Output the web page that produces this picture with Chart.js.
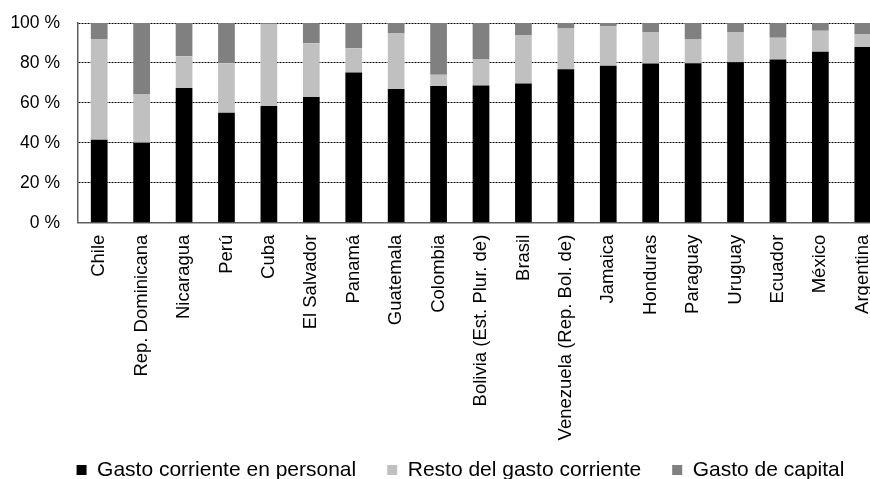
<!DOCTYPE html>
<html>
<head>
<meta charset="utf-8">
<script src="https://cdn.jsdelivr.net/npm/chart.js@4/dist/chart.umd.min.js"></script>
<style>
  html, body { margin: 0; padding: 0; background: #ffffff; overflow: hidden; }
  #wrap { position: relative; width: 870px; height: 479px; overflow: hidden; }
  #box { position: absolute; left: 0; top: 0; width: 900px; height: 479px; }
</style>
</head>
<body>
<div id="wrap"><div id="box"><canvas id="c"></canvas></div></div>
<script>
// Countries, ordered by share of personnel spending
const countries = [
  'Chile', 'Rep. Dominicana', 'Nicaragua', 'Perú', 'Cuba', 'El Salvador',
  'Panamá', 'Guatemala', 'Colombia', 'Bolivia (Est. Plur. de)', 'Brasil',
  'Venezuela (Rep. Bol. de)', 'Jamaica', 'Honduras', 'Paraguay', 'Uruguay',
  'Ecuador', 'México', 'Argentina'
];

// Shares of total spending (%)
const gastoPersonal = [41.5, 40.0, 67.5, 55.0, 58.5, 62.9, 75.2, 66.9, 68.4, 68.7, 69.7, 76.9, 78.6, 79.7, 79.9, 80.4, 81.7, 85.6, 88.0];
const restoCorriente = [50.5, 24.2, 15.8, 24.8, 41.0, 26.9, 12.2, 27.9, 5.7, 13.0, 24.3, 20.4, 19.9, 15.8, 11.9, 15.1, 10.9, 10.5, 6.3];
const gastoCapital = [8.0, 35.8, 16.7, 20.2, 0.5, 10.2, 12.6, 5.2, 25.9, 18.3, 6.0, 2.7, 1.5, 4.5, 8.2, 4.5, 7.4, 3.9, 5.7];

const yTicks = [0, 20, 40, 60, 80, 100];

const FONT = 'Liberation Sans, Arial, Helvetica, sans-serif';

// Legend sits centred under the whole figure, tight to the bottom edge;
// the category labels may run down towards it without being clipped.
const placement = {
  id: 'placement',
  afterLayout(chart) {
    const lg = chart.legend;
    const h = lg.height;
    lg.left += 18.5;
    lg.right += 18.5;
    lg.top = 428.5;
    lg.bottom = lg.top + h;
    chart.scales.x.bottom = chart.height;
  }
};

new Chart(document.getElementById('c'), {
  type: 'bar',
  data: {
    labels: countries,
    datasets: [
      { label: 'Gasto corriente en personal', data: gastoPersonal, backgroundColor: '#000000' },
      { label: 'Resto del gasto corriente', data: restoCorriente, backgroundColor: '#c0c0c0' },
      { label: 'Gasto de capital', data: gastoCapital, backgroundColor: '#808080' }
    ]
  },
  plugins: [placement],
  options: {
    responsive: true,
    maintainAspectRatio: false,
    animation: false,
    layout: { padding: { top: 23, left: 0, right: 16, bottom: 0 } },
    datasets: {
      bar: { categoryPercentage: 1.0, barPercentage: 0.394, borderWidth: 0 }
    },
    scales: {
      x: {
        stacked: true,
        grid: { display: true, drawOnChartArea: false, drawTicks: true, tickLength: 12, tickColor: 'rgba(0,0,0,0)' },
        border: { display: true, color: '#606060', width: 1.5 },
        ticks: {
          autoSkip: false,
          minRotation: 90,
          maxRotation: 90,
          padding: 0,
          color: '#000000',
          font: { family: FONT, size: 18.5 }
        },
        afterFit: (scale) => { scale.height = 194.3; }
      },
      y: {
        stacked: true,
        min: 0,
        max: 100,
        afterBuildTicks: (scale) => { scale.ticks = yTicks.map(v => ({ value: v })); },
        grid: {
          drawTicks: true,
          tickLength: 15,
          tickColor: 'rgba(0,0,0,0)',
          color: (ctx) => (ctx.tick && ctx.tick.value === 0) ? 'rgba(0,0,0,0)' : '#000000',
          lineWidth: 1
        },
        border: { display: true, color: '#606060', width: 1.5, dash: [2, 1] },
        ticks: {
          padding: 3,
          color: '#000000',
          font: { family: FONT, size: 17.5 },
          callback: (v) => v + ' %'
        },
        afterFit: (scale) => { scale.width = 78; }
      }
    },
    plugins: {
      legend: {
        position: 'bottom',
        labels: {
          boxWidth: 10,
          boxHeight: 10,
          padding: 31,
          color: '#000000',
          font: { family: FONT, size: 21 }
        }
      },
      tooltip: { enabled: false }
    }
  }
});
</script>
</body>
</html>
